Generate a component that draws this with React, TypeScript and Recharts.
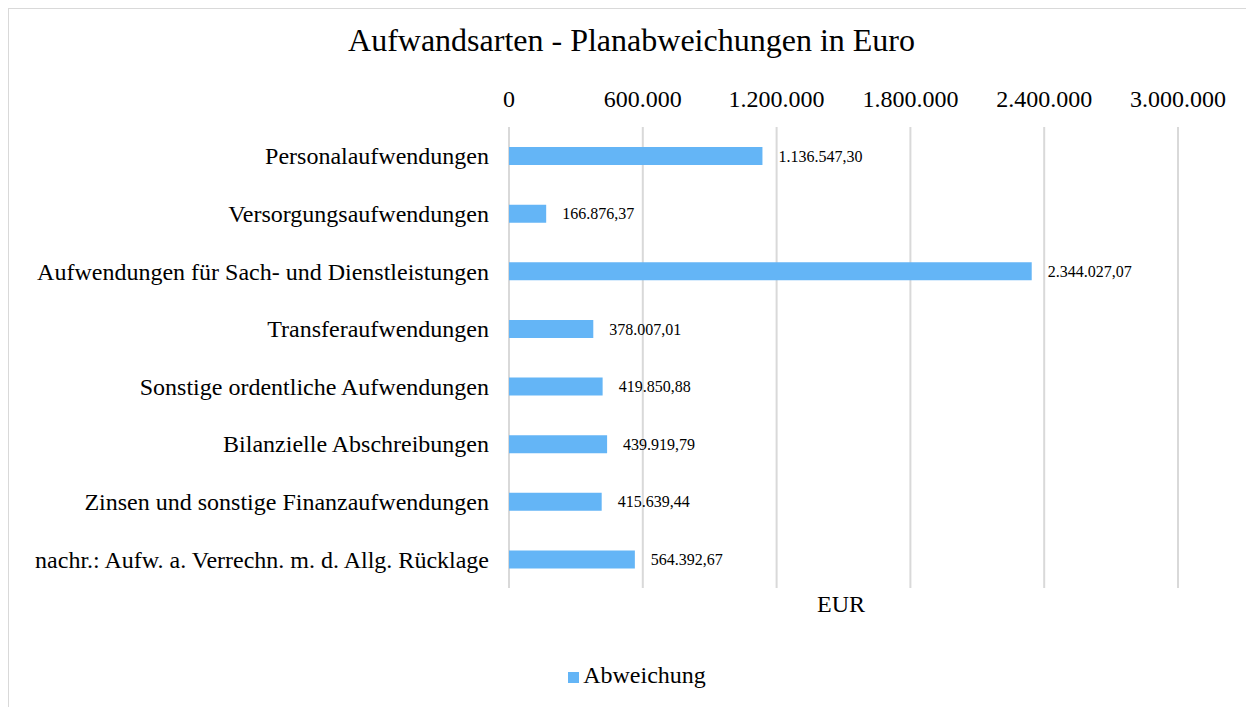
import React from 'react';
import { BarChart, Bar, XAxis, YAxis, CartesianGrid, Legend, LabelList } from 'recharts';

const categories = [
  'Personalaufwendungen',
  'Versorgungsaufwendungen',
  'Aufwendungen für Sach- und Dienstleistungen',
  'Transferaufwendungen',
  'Sonstige ordentliche Aufwendungen',
  'Bilanzielle Abschreibungen',
  'Zinsen und sonstige Finanzaufwendungen',
  'nachr.: Aufw. a. Verrechn. m. d. Allg. Rücklage',
];

const abweichung = [
  1136547.3, 166876.37, 2344027.07, 378007.01, 419850.88, 439919.79, 415639.44, 564392.67,
];

const xTicks = [0, 600000, 1200000, 1800000, 2400000, 3000000];

const FONT = '"Liberation Serif", "Times New Roman", serif';

// 1234567 -> "1.234.567"
function groupDots(n: number): string {
  return String(n).replace(/\B(?=(\d{3})+(?!\d))/g, '.');
}

// 1136547.3 -> "1.136.547,30"
function formatEuro(v: number): string {
  const cents = Math.round(v * 100);
  const whole = Math.floor(cents / 100);
  const frac = String(cents % 100).padStart(2, '0');
  return `${groupDots(whole)},${frac}`;
}

const data = categories.map((name, i) => ({ name, value: abweichung[i] }));

export default function App() {
  return (
    <div
      style={{
        position: 'relative',
        width: 1260,
        height: 720,
        border: '1px solid #d9d9d9',
        background: '#fff',
        fontFamily: FONT,
        color: '#000',
      }}
    >
      <div
        style={{
          position: 'absolute',
          left: 0,
          width: 1245,
          top: 12,
          textAlign: 'center',
          fontSize: 32,
          lineHeight: '38px',
        }}
      >
        Aufwandsarten - Planabweichungen in Euro
      </div>
      <BarChart
        width={1260}
        height={720}
        data={data}
        layout="vertical"
        margin={{ top: 68, right: 91, left: 0, bottom: 114 }}
        barSize={18}
        style={{ fontFamily: FONT }}
      >
        <CartesianGrid horizontal={false} vertical stroke="#d9d9d9" strokeWidth={2} />
        <XAxis
          type="number"
          orientation="top"
          domain={[0, 3000000]}
          ticks={xTicks}
          tickFormatter={(v: number) => groupDots(v)}
          axisLine={false}
          tickLine={false}
          tickMargin={14}
          height={50}
          tick={{ fill: '#000', fontSize: 24, fontFamily: FONT }}
        />
        <YAxis
          type="category"
          dataKey="name"
          width={500}
          axisLine={false}
          tickLine={false}
          tickMargin={14}
          interval={0}
          tick={{ fill: '#000', fontSize: 24, fontFamily: FONT }}
        />
        <Legend
          verticalAlign="bottom"
          iconType="square"
          iconSize={11}
          wrapperStyle={{ bottom: 40, left: 3, width: 1260, fontSize: 24, fontFamily: FONT }}
          formatter={(v: string) => <span style={{ color: '#000' }}>{v}</span>}
        />
        <Bar dataKey="value" name="Abweichung" fill="#64b5f6" isAnimationActive={false}>
          <LabelList
            dataKey="value"
            position="right"
            offset={16}
            formatter={(v: number) => formatEuro(v)}
            style={{ fill: '#000', fontSize: 16, fontFamily: FONT }}
          />
        </Bar>
      </BarChart>
      <div
        style={{
          position: 'absolute',
          left: 832,
          transform: 'translateX(-50%)',
          top: 581,
          fontSize: 24,
          lineHeight: '28px',
        }}
      >
        EUR
      </div>
    </div>
  );
}
